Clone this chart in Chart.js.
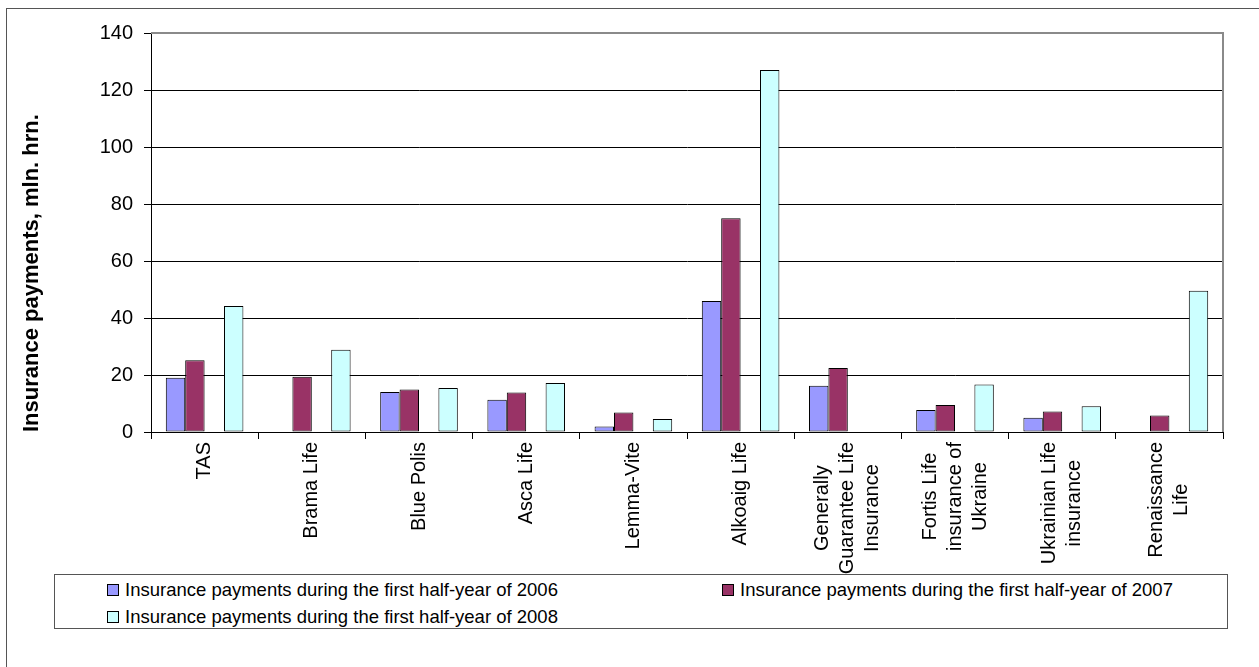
<!DOCTYPE html>
<html>
<head>
<meta charset="utf-8">
<script src="https://cdn.jsdelivr.net/npm/chart.js@4/dist/chart.umd.min.js"></script>
<style>
  body { margin: 0; background: #fff; font-family: "Liberation Sans", Arial, sans-serif; }
  #wrap { position: relative; width: 1259px; height: 667px; overflow: hidden; }
  #frame { position: absolute; left: 6px; top: 8px; width: 1300px; height: 700px;
           border-left: 1px solid #555; border-top: 1px solid #555; }
  #chart { position: absolute; left: 0; top: 0; z-index: 2; }
  #legend { position: absolute; left: 54px; top: 574px; width: 1174px; height: 55px; z-index: 1;
            border: 1px solid #555; box-sizing: border-box; background: #fff;
            display: grid; grid-template-columns: 615px 1fr; grid-auto-rows: 27px;
            padding: 1px 0 0 52px; font-size: 18.5px; color: #000; }
  #legend .item { display: flex; align-items: center; white-space: nowrap; }
  #legend .box { width: 10px; height: 10px; border: 1px solid #000; margin-right: 6px; flex: none; }
</style>
</head>
<body>
<div id="wrap">
  <div id="frame"></div>
  <div id="legend"></div>
  <canvas id="chart" width="1259" height="667"></canvas>
</div>
<script>
const companies = [
  ['TAS'], ['Brama Life'], ['Blue Polis'], ['Asca Life'], ['Lemma-Vite'], ['Alkoaig Life'],
  ['Generally', 'Guarantee Life', 'Insurance'],
  ['Fortis Life', 'insurance of', 'Ukraine'],
  ['Ukrainian Life', 'insurance'],
  ['Renaissance', 'Life']
];
const payments2006 = [19, null, 14, 11.3, 1.9, 46, 16.2, 7.7, 5, null];
const payments2007 = [25.2, 19.4, 14.9, 13.9, 6.8, 75, 22.5, 9.5, 7.2, 5.8];
const payments2008 = [44.2, 28.9, 15.4, 17.2, 4.6, 127, null, 16.7, 9, 49.6];
const emptySeries = [null, null, null, null, null, null, null, null, null, null];
const yTicks = [0, 20, 40, 60, 80, 100, 120, 140];

const font = '"Liberation Sans", Arial, sans-serif';

const plotFrame = {
  id: 'plotFrame',
  beforeDatasetsDraw(chart) {
    const { ctx, chartArea: a } = chart;
    ctx.save();
    ctx.strokeStyle = '#8a8a8a';
    ctx.lineWidth = 2;
    ctx.beginPath();
    ctx.moveTo(a.left, a.top);
    ctx.lineTo(a.right, a.top);
    ctx.lineTo(a.right, a.bottom);
    ctx.stroke();
    ctx.restore();
  }
};

// category labels: rotated, lines centred on each other
const categoryLabels = {
  id: 'categoryLabels',
  afterDraw(chart) {
    const { ctx } = chart;
    const x = chart.scales.x;
    ctx.save();
    ctx.font = '20px ' + font;
    ctx.fillStyle = '#000';
    ctx.textAlign = 'center';
    ctx.textBaseline = 'middle';
    chart.data.labels.forEach((lines, i) => {
      const cx = x.getPixelForTick(i);
      const w = Math.max(...lines.map(l => ctx.measureText(l).width));
      const cy = x.top + 10 + w / 2;
      ctx.save();
      ctx.translate(cx, cy);
      ctx.rotate(-Math.PI / 2);
      lines.forEach((l, k) => ctx.fillText(l, 0, (k - (lines.length - 1) / 2) * 25));
      ctx.restore();
    });
    ctx.restore();
  }
};

const barStyle = { borderColor: '#000', borderWidth: 1, borderSkipped: false,
                   categoryPercentage: 0.724, barPercentage: 1.0 };

const chart = new Chart(document.getElementById('chart'), {
  type: 'bar',
  data: {
    labels: companies,
    datasets: [
      { label: 'Insurance payments during the first half-year of 2006', data: payments2006,
        backgroundColor: '#9999ff', ...barStyle },
      { label: 'Insurance payments during the first half-year of 2007', data: payments2007,
        backgroundColor: '#993366', ...barStyle },
      { label: '', data: emptySeries, backgroundColor: 'transparent', ...barStyle },
      { label: 'Insurance payments during the first half-year of 2008', data: payments2008,
        backgroundColor: '#ccffff', ...barStyle }
    ]
  },
  options: {
    responsive: false,
    animation: false,
    devicePixelRatio: 1,
    layout: { padding: { left: 8, top: 33, right: 36, bottom: 95 } },
    plugins: {
      legend: { display: false },
      tooltip: { enabled: false }
    },
    scales: {
      x: {
        afterFit(scale) { scale.height = 140; },
        grid: { drawOnChartArea: false, offset: true, color: '#000', tickLength: 7 },
        border: { color: '#000', width: 1 },
        ticks: { display: false }
      },
      y: {
        min: 0,
        max: 140,
        afterFit(scale) { scale.width = 143; },
        afterBuildTicks(scale) { scale.ticks = yTicks.map(v => ({ value: v })); },
        grid: { color: '#000', tickColor: '#000', tickLength: 7 },
        border: { color: '#000', width: 1 },
        ticks: { color: '#000', padding: 11, font: { family: font, size: 20 } },
        title: {
          display: true,
          text: 'Insurance payments, mln. hrn.',
          align: 'start',
          color: '#000',
          padding: { top: 11, bottom: 0 },
          font: { family: font, size: 22, weight: 'bold' }
        }
      }
    }
  },
  plugins: [plotFrame, categoryLabels]
});

const legendEl = document.getElementById('legend');
chart.data.datasets.filter(d => d.label).forEach(d => {
  const item = document.createElement('div');
  item.className = 'item';
  const box = document.createElement('span');
  box.className = 'box';
  box.style.background = d.backgroundColor;
  item.appendChild(box);
  item.appendChild(document.createTextNode(d.label));
  legendEl.appendChild(item);
});
</script>
</body>
</html>
